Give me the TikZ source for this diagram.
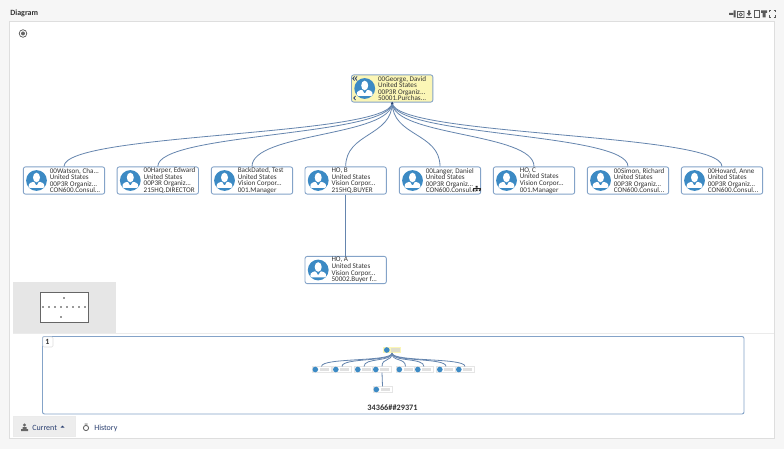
\documentclass[tikz,border=0pt]{standalone}
\usepackage{fontspec}
\setmainfont{Carlito}
\definecolor{page grey}{HTML}{F6F6F6}
\definecolor{frame grey}{HTML}{DEDEDE}
\definecolor{card blue}{HTML}{84A3C8}
\definecolor{link blue}{HTML}{6585AE}
\definecolor{person blue}{HTML}{3C8AC4}
\definecolor{root yellow}{HTML}{FBF6B6}
\definecolor{navy text}{HTML}{2A3F70}
\definecolor{overview grey}{HTML}{E6E6E6}
\tikzset{
	card/.style={draw=card blue, fill=white, rounded corners=1.6pt, line width=0.65pt, minimum width=61pt, minimum height=20.4pt, inner sep=0pt},
	cardtext/.style={anchor=west, align=left, inner sep=0pt, font=\fontsize{5.35}{4.9}\selectfont, text=black!80},
	link/.style={draw=link blue, line width=0.6pt},
	minicard/.style={draw=black!10, fill=white, minimum width=14pt, minimum height=4.2pt, inner sep=0pt},
	tool/.style={fill=black!65, draw=none},
	avatar/.pic={
		\fill[person blue] (0,0) circle (10.4);
		\fill[white] (0,-3) ellipse (3.5 and 4.8);
		\fill[white, rounded corners=0.8pt] (-7.8,7.4) -- (-7.8,4.6) .. controls (-7,2.2) and (-4.6,2) .. (-2.6,0.9) -- (0,5.6) -- (2.6,0.9) .. controls (4.6,2) and (7,2.2) .. (7.8,4.6) -- (7.8,7.4) -- cycle;
	}
}
% one employee: name, centre, four lines of text
\newcommand{\personcard}[4][fill=white]{
	\node[card, #1] (#2) at (#3) {};
	\path (#2.west) ++(13.6,0) pic {avatar};
	\node[cardtext] (#2text) at ([xshift=20pt]#2.west) {#4};
}
\begin{document}
\begin{tikzpicture}[x=0.75pt, y=-0.75pt]
	\useasboundingbox (0,0) rectangle (784,449);
	% page and panels
	\fill[page grey] (0,0) rectangle (784,449);
	\draw[frame grey, fill=white] (9.5,21.5) rectangle (774.5,438);
	\fill[overview grey] (13,282) rectangle (116,333);
	\draw[black!60, fill=white, line width=0.6pt] (40.5,292.5) rectangle (88,322.5);
	\draw[black!8] (13,333.5) -- (774,333.5);
	\node[anchor=west, inner sep=0pt, font=\fontsize{6}{6}\selectfont\bfseries, text=black!80] (title) at (10,13.5) {Diagram};
	% target button
	\draw[black!70, line width=0.5pt] (23,33.5) circle (3.8);
	\fill[black!60] (23,33.5) circle (2);
	% toolbar
	\begin{scope}
		\fill[tool] (729,13) rectangle (733,15) (733.5,10.5) rectangle (735.5,17.5);
		\draw[black!65, line width=0.5pt] (737.5,11.5) rectangle (744,17.5) (740.7,14.5) circle (1.6);
		\draw[black!65, line width=0.6pt] (746,17.5) -- (752,17.5);
		\fill[tool] (748,10.5) rectangle (750,13.5) (746.8,13.2) -- (751.2,13.2) -- (749,16) -- cycle;
		\draw[black!65, line width=0.5pt] (754,10.5) rectangle (759,17.5);
		\fill[tool] (761,10.5) rectangle (767,13) (762.5,13) rectangle (765.5,17.5);
		\draw[black!65, line width=0.5pt] (769,12.5) -- (769,10.5) -- (770.5,10.5) (773.5,10.5) -- (775,10.5) -- (775,12.5)
			(769,15.5) -- (769,17.5) -- (770.5,17.5) (773.5,17.5) -- (775,17.5) -- (775,15.5);
	\end{scope}
	% overview dots
	\foreach \x in {43,49,55,61,67,73,79,85}
		\fill[black!80] (\x,307) circle (0.9);
	\fill[black!80] (64,298) circle (0.9) (61,317) circle (0.9);
	% employees
	\personcard[fill=root yellow]{george}{392.2,88.5}{00George, David\\United States\\00P3R Organiz...\\50001.Purchas...}
	\personcard{watson}{64,180.5}{00Watson, Cha...\\United States\\00P3R Organiz...\\CON600.Consul...}
	\personcard{harper}{157.8,180.5}{00Harper, Edward\\United States\\00P3R Organiz...\\215HQ.DIRECTOR}
	\personcard{backdated}{252,180.5}{BackDated, Test\\United States\\Vision Corpor...\\001.Manager}
	\personcard{hob}{345.7,180.5}{HO, B\\United States\\Vision Corpor...\\215HQ.BUYER}
	\personcard{langer}{440,180.5}{00Langer, Daniel\\United States\\00P3R Organiz...\\CON600.Consul...}
	\personcard{hoc}{534,180.5}{HO, C\\United States\\Vision Corpor...\\001.Manager}
	\personcard{simon}{628,180.5}{00Simon, Richard\\United States\\00P3R Organiz...\\CON600.Consul...}
	\personcard{howard}{722,180.5}{00Hovard, Anne\\United States\\00P3R Organiz...\\CON600.Consul...}
	\personcard{hoa}{345.7,270}{HO, A\\United States\\Vision Corpor...\\50002.Buyer f...}
	% links
	\foreach \child in {watson,harper,backdated,hob,langer,hoc,simon,howard}
		\draw[link] (george.south) .. controls +(0,34) and +(0,-34) .. (\child.north);
	\draw[link] (hob.south) -- (hoa.north);
	\fill[navy text] (george.south) ++(-1.5,1.6) -- ++(1.5,-2.2) -- ++(1.5,2.2) -- cycle;
	% collapse arrows on the root
	\draw[navy text, line width=0.6pt] (354.5,76.5) -- (352.8,78.5) -- (354.5,80.5) (357,76.5) -- (355.3,78.5) -- (357,80.5)
		(355.5,96) -- (353.8,98) -- (355.5,100);
	% hierarchy mark
	\fill[black!85] (475.6,185.8) rectangle (477.6,187.6) (472.6,189.4) rectangle (474.4,191.2) (475.7,189.4) rectangle (477.5,191.2) (478.8,189.4) rectangle (480.6,191.2);
	\draw[black!85, line width=0.3pt] (476.6,187.6) -- (476.6,189.4) (473.5,189.4) -- (473.5,188.5) -- (479.7,188.5) -- (479.7,189.4);
	% page thumbnail
	\draw[card blue, rounded corners=1.5pt, line width=0.7pt, fill=white] (42.5,336.5) rectangle (744,414);
	\draw[frame grey, fill=white, rounded corners=1pt] (42.8,336.8) rectangle (53,347);
	\node[inner sep=0pt, font=\fontsize{6}{6}\selectfont\bfseries, text=black!80] (pagenum) at (47.5,342) {1};
	\node[minicard, fill=root yellow, draw=none] (miniroot) at (392,350) {};
	\fill[person blue] (386.8,350) circle (2.8);
	\fill[root yellow!70!black!40] (391,348.2) rectangle (400,351.8);
	\foreach \i/\x in {1/321.5,2/342,3/364,4/382,5/405.5,6/424,7/446,8/465}{
		\node[minicard] (mini\i) at (\x,369.5) {};
		\fill[person blue] (\x-6.2,369.5) circle (2.8);
		\fill[black!12] (\x-2,367.8) rectangle (\x+7,371.2);
		\draw[link] (miniroot.south) .. controls +(0,9) and +(0,-9) .. (mini\i.north);
	}
	\node[minicard] (minia) at (382.5,389.5) {};
	\fill[person blue] (376.3,389.5) circle (2.8);
	\fill[black!12] (380.5,387.8) rectangle (389.5,391.2);
	\draw[link] (mini4.south) -- (minia.north);
	\node[inner sep=0pt, font=\fontsize{6.2}{6}\selectfont\bfseries, text=black!80] (pageid) at (392.5,407.5) {34366\#\#29371};
	% tabs
	\draw[black!8, fill=black!7] (13,416) rectangle (75,436);
	\fill[black!60] (24.5,425) circle (1.7) (21,431) rectangle (28,429) (22.5,429) rectangle (26.5,427);
	\node[anchor=west, inner sep=0pt, font=\fontsize{6}{6}\selectfont, text=navy text] (current) at (32,427.5) {Current};
	\fill[navy text] (60.5,427.5) -- (64.5,427.5) -- (62.5,425.5) -- cycle;
	\draw[black!65, line width=0.6pt] (86,428) circle (2.6) (84.5,424) -- (87.5,424);
	\node[anchor=west, inner sep=0pt, font=\fontsize{6}{6}\selectfont, text=navy text] (history) at (94,428.5) {History};
\end{tikzpicture}
\end{document}
